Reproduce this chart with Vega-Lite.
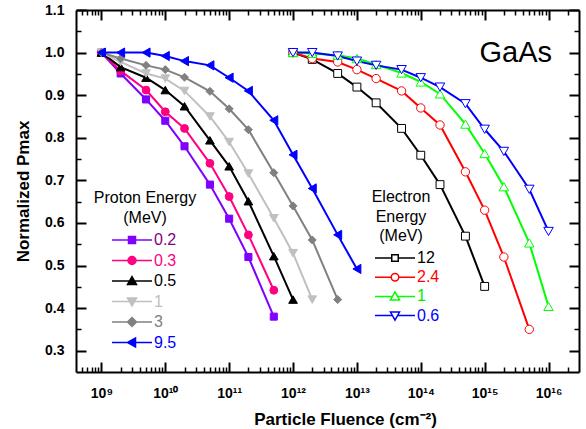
{
  "$schema": "https://vega.github.io/schema/vega-lite/v6.json",
  "width": 503,
  "height": 362,
  "autosize": {"type": "none"},
  "padding": {"left": 76, "top": 10, "right": 7, "bottom": 57},
  "background": "white",
  "config": {"view": {"stroke": null}, "font": "Liberation Sans"},
  "title": {"text": "GaAs", "anchor": "end", "orient": "top", "frame": "group", "offset": 0, "baseline": "alphabetic", "dy": 88, "dx": -27, "fontSize": 29, "fontWeight": "normal", "font": "Liberation Sans", "color": "black"},
  "datasets": {
    "proton": [
      {"energy": "0.2", "fluence": 1e9, "pmax": 1.0}, {"energy": "0.2", "fluence": 2e9, "pmax": 0.951}, {"energy": "0.2", "fluence": 5e9, "pmax": 0.89}, {"energy": "0.2", "fluence": 1e10, "pmax": 0.84}, {"energy": "0.2", "fluence": 2e10, "pmax": 0.78}, {"energy": "0.2", "fluence": 5e10, "pmax": 0.69}, {"energy": "0.2", "fluence": 1e11, "pmax": 0.61}, {"energy": "0.2", "fluence": 2e11, "pmax": 0.52}, {"energy": "0.2", "fluence": 5e11, "pmax": 0.38},
      {"energy": "0.3", "fluence": 1e9, "pmax": 1.0}, {"energy": "0.3", "fluence": 2e9, "pmax": 0.957}, {"energy": "0.3", "fluence": 5e9, "pmax": 0.912}, {"energy": "0.3", "fluence": 1e10, "pmax": 0.861}, {"energy": "0.3", "fluence": 2e10, "pmax": 0.822}, {"energy": "0.3", "fluence": 5e10, "pmax": 0.74}, {"energy": "0.3", "fluence": 1e11, "pmax": 0.662}, {"energy": "0.3", "fluence": 2e11, "pmax": 0.572}, {"energy": "0.3", "fluence": 5e11, "pmax": 0.442},
      {"energy": "0.5", "fluence": 1e9, "pmax": 1.0}, {"energy": "0.5", "fluence": 2e9, "pmax": 0.966}, {"energy": "0.5", "fluence": 5e9, "pmax": 0.941}, {"energy": "0.5", "fluence": 1e10, "pmax": 0.912}, {"energy": "0.5", "fluence": 2e10, "pmax": 0.874}, {"energy": "0.5", "fluence": 5e10, "pmax": 0.794}, {"energy": "0.5", "fluence": 1e11, "pmax": 0.733}, {"energy": "0.5", "fluence": 2e11, "pmax": 0.651}, {"energy": "0.5", "fluence": 5e11, "pmax": 0.522}, {"energy": "0.5", "fluence": 1e12, "pmax": 0.42},
      {"energy": "1", "fluence": 1e9, "pmax": 1.0}, {"energy": "1", "fluence": 2e9, "pmax": 0.978}, {"energy": "1", "fluence": 5e9, "pmax": 0.951}, {"energy": "1", "fluence": 1e10, "pmax": 0.939}, {"energy": "1", "fluence": 2e10, "pmax": 0.91}, {"energy": "1", "fluence": 5e10, "pmax": 0.85}, {"energy": "1", "fluence": 1e11, "pmax": 0.79}, {"energy": "1", "fluence": 2e11, "pmax": 0.716}, {"energy": "1", "fluence": 5e11, "pmax": 0.611}, {"energy": "1", "fluence": 1e12, "pmax": 0.529}, {"energy": "1", "fluence": 2e12, "pmax": 0.42},
      {"energy": "3", "fluence": 1e9, "pmax": 1.0}, {"energy": "3", "fluence": 2e9, "pmax": 0.986}, {"energy": "3", "fluence": 5e9, "pmax": 0.97}, {"energy": "3", "fluence": 1e10, "pmax": 0.96}, {"energy": "3", "fluence": 2e10, "pmax": 0.942}, {"energy": "3", "fluence": 5e10, "pmax": 0.909}, {"energy": "3", "fluence": 1e11, "pmax": 0.868}, {"energy": "3", "fluence": 2e11, "pmax": 0.819}, {"energy": "3", "fluence": 5e11, "pmax": 0.718}, {"energy": "3", "fluence": 1e12, "pmax": 0.64}, {"energy": "3", "fluence": 2e12, "pmax": 0.56}, {"energy": "3", "fluence": 5e12, "pmax": 0.42},
      {"energy": "9.5", "fluence": 1e9, "pmax": 1.0}, {"energy": "9.5", "fluence": 2e9, "pmax": 1.0}, {"energy": "9.5", "fluence": 5e9, "pmax": 1.0}, {"energy": "9.5", "fluence": 1e10, "pmax": 0.992}, {"energy": "9.5", "fluence": 2e10, "pmax": 0.98}, {"energy": "9.5", "fluence": 5e10, "pmax": 0.97}, {"energy": "9.5", "fluence": 1e11, "pmax": 0.941}, {"energy": "9.5", "fluence": 2e11, "pmax": 0.91}, {"energy": "9.5", "fluence": 5e11, "pmax": 0.841}, {"energy": "9.5", "fluence": 1e12, "pmax": 0.76}, {"energy": "9.5", "fluence": 2e12, "pmax": 0.681}, {"energy": "9.5", "fluence": 5e12, "pmax": 0.572}, {"energy": "9.5", "fluence": 1e13, "pmax": 0.492}
    ],
    "electron": [
      {"energy": "12", "fluence": 1e12, "pmax": 1.0}, {"energy": "12", "fluence": 2e12, "pmax": 0.984}, {"energy": "12", "fluence": 5e12, "pmax": 0.951}, {"energy": "12", "fluence": 1e13, "pmax": 0.919}, {"energy": "12", "fluence": 2e13, "pmax": 0.882}, {"energy": "12", "fluence": 5e13, "pmax": 0.822}, {"energy": "12", "fluence": 1e14, "pmax": 0.759}, {"energy": "12", "fluence": 2e14, "pmax": 0.69}, {"energy": "12", "fluence": 5e14, "pmax": 0.569}, {"energy": "12", "fluence": 1e15, "pmax": 0.451},
      {"energy": "2.4", "fluence": 1e12, "pmax": 1.0}, {"energy": "2.4", "fluence": 2e12, "pmax": 0.986}, {"energy": "2.4", "fluence": 5e12, "pmax": 0.978}, {"energy": "2.4", "fluence": 1e13, "pmax": 0.96}, {"energy": "2.4", "fluence": 2e13, "pmax": 0.939}, {"energy": "2.4", "fluence": 5e13, "pmax": 0.91}, {"energy": "2.4", "fluence": 1e14, "pmax": 0.87}, {"energy": "2.4", "fluence": 2e14, "pmax": 0.83}, {"energy": "2.4", "fluence": 5e14, "pmax": 0.72}, {"energy": "2.4", "fluence": 1e15, "pmax": 0.63}, {"energy": "2.4", "fluence": 2e15, "pmax": 0.52}, {"energy": "2.4", "fluence": 5e15, "pmax": 0.35},
      {"energy": "1", "fluence": 1e12, "pmax": 1.0}, {"energy": "1", "fluence": 2e12, "pmax": 0.998}, {"energy": "1", "fluence": 5e12, "pmax": 0.994}, {"energy": "1", "fluence": 1e13, "pmax": 0.986}, {"energy": "1", "fluence": 2e13, "pmax": 0.972}, {"energy": "1", "fluence": 5e13, "pmax": 0.952}, {"energy": "1", "fluence": 1e14, "pmax": 0.931}, {"energy": "1", "fluence": 2e14, "pmax": 0.903}, {"energy": "1", "fluence": 5e14, "pmax": 0.832}, {"energy": "1", "fluence": 1e15, "pmax": 0.763}, {"energy": "1", "fluence": 2e15, "pmax": 0.685}, {"energy": "1", "fluence": 5e15, "pmax": 0.553}, {"energy": "1", "fluence": 1e16, "pmax": 0.404},
      {"energy": "0.6", "fluence": 1e12, "pmax": 1.0}, {"energy": "0.6", "fluence": 2e12, "pmax": 1.0}, {"energy": "0.6", "fluence": 5e12, "pmax": 0.992}, {"energy": "0.6", "fluence": 1e13, "pmax": 0.98}, {"energy": "0.6", "fluence": 2e13, "pmax": 0.97}, {"energy": "0.6", "fluence": 5e13, "pmax": 0.96}, {"energy": "0.6", "fluence": 1e14, "pmax": 0.941}, {"energy": "0.6", "fluence": 2e14, "pmax": 0.919}, {"energy": "0.6", "fluence": 5e14, "pmax": 0.88}, {"energy": "0.6", "fluence": 1e15, "pmax": 0.82}, {"energy": "0.6", "fluence": 2e15, "pmax": 0.768}, {"energy": "0.6", "fluence": 5e15, "pmax": 0.679}, {"energy": "0.6", "fluence": 1e16, "pmax": 0.58}
    ]
  },
  "layer": [
    {
      "data": {"name": "proton"},
      "resolve": {"axis": {"x": "independent", "y": "independent"}},
      "layer": [
        {
          "mark": {"type": "line", "strokeWidth": 2},
          "encoding": {
            "x": {"field": "fluence", "type": "quantitative", "scale": {"type": "log", "domain": [4e8, 3e16], "nice": false},
              "axis": {"orient": "bottom", "values": [1e9, 1e10, 1e11, 1e12, 1e13, 1e14, 1e15, 1e16], "tickSize": -10, "tickWidth": 2, "tickColor": "black", "domain": true, "domainWidth": 2, "domainColor": "black", "grid": false,
                "labelFont": "Liberation Sans", "labelFontSize": 14, "labelFontWeight": "bold", "labelColor": "black", "labelPadding": 24, "labelOverlap": false, "labelFlush": false,
                "labelExpr": "'10' + (datum.value < 5e9 ? '⁹' : datum.value < 5e10 ? '¹⁰' : datum.value < 5e11 ? '¹¹' : datum.value < 5e12 ? '¹²' : datum.value < 5e13 ? '¹³' : datum.value < 5e14 ? '¹⁴' : datum.value < 5e15 ? '¹⁵' : '¹⁶')",
                "title": "Particle Fluence (cm⁻²)", "titleFont": "Liberation Sans", "titleFontSize": 17, "titleFontWeight": "bold", "titleColor": "black", "titlePadding": 11, "titleX": 269, "titleAlign": "center"}},
            "y": {"field": "pmax", "type": "quantitative", "scale": {"domain": [0.25, 1.1], "nice": false, "zero": false},
              "axis": {"orient": "left", "values": [0.3, 0.4, 0.5, 0.6, 0.7, 0.8, 0.9, 1.0, 1.1], "format": ".1f", "tickSize": -10, "tickWidth": 2, "tickColor": "black", "domain": true, "domainWidth": 2, "domainColor": "black", "grid": false,
                "labelFont": "Liberation Sans", "labelFontSize": 14, "labelFontWeight": "bold", "labelColor": "black", "labelPadding": 22, "labelOverlap": false, "labelFlush": false,
                "title": "Normalized Pmax", "titleFont": "Liberation Sans", "titleFontSize": 17, "titleFontWeight": "bold", "titleColor": "black", "titlePadding": 12}},
            "color": {"field": "energy", "type": "nominal", "scale": {"range": ["#8000ff", "#ff0080", "#000000", "#c0c0c0", "#808080", "#0000ff"]}, "legend": null}
          }
        },
        {
          "mark": {"type": "point", "filled": true, "opacity": 1, "strokeWidth": 1},
          "encoding": {
            "x": {"field": "fluence", "type": "quantitative", "scale": {"type": "log", "domain": [4e8, 3e16], "nice": false},
              "axis": {"orient": "bottom", "values": [5e8, 6e8, 7e8, 8e8, 9e8, 2e9, 3e9, 4e9, 5e9, 6e9, 7e9, 8e9, 9e9, 2e10, 3e10, 4e10, 5e10, 6e10, 7e10, 8e10, 9e10, 2e11, 3e11, 4e11, 5e11, 6e11, 7e11, 8e11, 9e11, 2e12, 3e12, 4e12, 5e12, 6e12, 7e12, 8e12, 9e12, 2e13, 3e13, 4e13, 5e13, 6e13, 7e13, 8e13, 9e13, 2e14, 3e14, 4e14, 5e14, 6e14, 7e14, 8e14, 9e14, 2e15, 3e15, 4e15, 5e15, 6e15, 7e15, 8e15, 9e15, 2e16], "tickSize": -5, "tickWidth": 1.5, "tickColor": "black", "domain": false, "labels": false, "grid": false, "title": null}},
            "y": {"field": "pmax", "type": "quantitative", "scale": {"domain": [0.25, 1.1], "nice": false, "zero": false},
              "axis": {"orient": "left", "values": [0.35, 0.45, 0.55, 0.65, 0.75, 0.85, 0.95, 1.05], "tickSize": -5, "tickWidth": 1.5, "tickColor": "black", "domain": false, "labels": false, "grid": false, "title": null}},
            "stroke": {"field": "energy", "type": "nominal", "scale": {"domain": ["0.2", "0.3", "0.5", "1", "3", "9.5"], "range": ["#8000ff", "#ff0080", "#000000", "#c0c0c0", "#808080", "#0000ff"]},
              "legend": {"title": ["Proton Energy", "(MeV)"], "orient": "none", "legendX": 18, "legendY": 180, "padding": 0,
                "titleFont": "Liberation Sans", "titleFontSize": 16, "titleFontWeight": "normal", "titleColor": "black", "titleAlign": "center", "titleAnchor": "middle", "titleLineHeight": 20, "titlePadding": 6,
                "labelFont": "Liberation Sans", "labelFontSize": 16, "labelOffset": 14, "rowPadding": 4.5, "symbolOffset": 10,
                "symbolSize": 100, "symbolStrokeWidth": 1.5,
                "labelColor": {"expr": "datum.value == '0.2' ? '#800080' : datum.value == '0.3' ? '#ff0080' : datum.value == '0.5' ? '#000000' : datum.value == '1' ? '#c0c0c0' : datum.value == '3' ? '#808080' : '#0000ff'"},
                "symbolFillColor": {"expr": "datum.value == '0.2' ? '#8000ff' : datum.value == '0.3' ? '#ff0080' : datum.value == '0.5' ? '#000000' : datum.value == '1' ? '#c0c0c0' : datum.value == '3' ? '#808080' : '#0000ff'"},
                "symbolType": {"expr": "datum.value == '0.2' ? 'M-4,0H-0.7M0.7,0H4M-0.7,-0.7H0.7V0.7H-0.7Z' : datum.value == '0.3' ? 'M-4,0H-0.8M0.8,0H4M-0.8,0A0.8,0.8,0,1,0,0.8,0A0.8,0.8,0,1,0,-0.8,0Z' : datum.value == '0.5' ? 'M-4,0H-0.5M0.5,0H4M0,-0.9L0.9,0.7H-0.9Z' : datum.value == '1' ? 'M-4,0H-0.5M0.5,0H4M0,0.9L0.9,-0.7H-0.9Z' : datum.value == '3' ? 'M-4,0H-0.9M0.9,0H4M0,-0.9L0.9,0L0,0.9L-0.9,0Z' : 'M-4,0H-0.9M0.7,0H4M-0.9,0L0.7,-0.9V0.9Z'"}}},
            "fill": {"field": "energy", "type": "nominal", "scale": {"range": ["#8000ff", "#ff0080", "#000000", "#c0c0c0", "#808080", "#0000ff"]}, "legend": null},
            "shape": {"field": "energy", "type": "nominal", "scale": {"range": ["square", "circle", "triangle-up", "triangle-down", "diamond", "triangle-left"]}, "legend": null},
            "size": {"field": "energy", "type": "nominal", "scale": {"type": "ordinal", "range": [50, 62, 75, 75, 64, 85]}, "legend": null}
          }
        }
      ]
    },
    {
      "data": {"name": "electron"},
      "resolve": {"axis": {"x": "independent", "y": "independent"}},
      "layer": [
        {
          "mark": {"type": "line", "strokeWidth": 2},
          "encoding": {
            "x": {"field": "fluence", "type": "quantitative", "scale": {"type": "log", "domain": [4e8, 3e16], "nice": false},
              "axis": {"orient": "top", "values": [1e9, 1e10, 1e11, 1e12, 1e13, 1e14, 1e15, 1e16], "tickSize": -10, "tickWidth": 2, "tickColor": "black", "domain": true, "domainWidth": 2, "domainColor": "black", "grid": false, "labels": false, "title": null}},
            "y": {"field": "pmax", "type": "quantitative", "scale": {"domain": [0.25, 1.1], "nice": false, "zero": false},
              "axis": {"orient": "right", "values": [0.3, 0.4, 0.5, 0.6, 0.7, 0.8, 0.9, 1.0, 1.1], "tickSize": -10, "tickWidth": 2, "tickColor": "black", "domain": true, "domainWidth": 2, "domainColor": "black", "grid": false, "labels": false, "title": null}},
            "color": {"field": "energy", "type": "nominal", "scale": {"range": ["#0000ff", "#00ff00", "#000000", "#ff0000"]}, "legend": null}
          }
        },
        {
          "mark": {"type": "point", "filled": false, "fill": "white", "opacity": 1, "strokeWidth": 1},
          "encoding": {
            "x": {"field": "fluence", "type": "quantitative", "scale": {"type": "log", "domain": [4e8, 3e16], "nice": false},
              "axis": {"orient": "top", "values": [5e8, 6e8, 7e8, 8e8, 9e8, 2e9, 3e9, 4e9, 5e9, 6e9, 7e9, 8e9, 9e9, 2e10, 3e10, 4e10, 5e10, 6e10, 7e10, 8e10, 9e10, 2e11, 3e11, 4e11, 5e11, 6e11, 7e11, 8e11, 9e11, 2e12, 3e12, 4e12, 5e12, 6e12, 7e12, 8e12, 9e12, 2e13, 3e13, 4e13, 5e13, 6e13, 7e13, 8e13, 9e13, 2e14, 3e14, 4e14, 5e14, 6e14, 7e14, 8e14, 9e14, 2e15, 3e15, 4e15, 5e15, 6e15, 7e15, 8e15, 9e15, 2e16], "tickSize": -5, "tickWidth": 1.5, "tickColor": "black", "domain": false, "labels": false, "grid": false, "title": null}},
            "y": {"field": "pmax", "type": "quantitative", "scale": {"domain": [0.25, 1.1], "nice": false, "zero": false},
              "axis": {"orient": "right", "values": [0.35, 0.45, 0.55, 0.65, 0.75, 0.85, 0.95, 1.05], "tickSize": -5, "tickWidth": 1.5, "tickColor": "black", "domain": false, "labels": false, "grid": false, "title": null}},
            "stroke": {"field": "energy", "type": "nominal", "scale": {"domain": ["12", "2.4", "1", "0.6"], "range": ["#000000", "#ff0000", "#00ff00", "#0000ff"]},
              "legend": {"title": ["Electron", "Energy", "(MeV)"], "orient": "none", "legendX": 287, "legendY": 179, "padding": 0,
                "titleFont": "Liberation Sans", "titleFontSize": 16, "titleFontWeight": "normal", "titleColor": "black", "titleAlign": "center", "titleAnchor": "middle", "titleLineHeight": 19.5, "titlePadding": 6,
                "labelFont": "Liberation Sans", "labelFontSize": 16, "labelOffset": 14, "rowPadding": 3.2, "symbolOffset": 24,
                "symbolSize": 100, "symbolStrokeWidth": 1.5, "symbolFillColor": "white",
                "labelColor": {"expr": "datum.value == '12' ? '#000000' : datum.value == '2.4' ? '#ff0000' : datum.value == '1' ? '#00ee00' : '#0000ff'"},
                "symbolType": {"expr": "datum.value == '12' ? 'M-4,0H-0.65M0.65,0H4M-0.65,-0.65H0.65V0.65H-0.65Z' : datum.value == '2.4' ? 'M-4,0H-0.75M0.75,0H4M-0.75,0A0.75,0.75,0,1,0,0.75,0A0.75,0.75,0,1,0,-0.75,0Z' : datum.value == '1' ? 'M-4,0H-0.5M0.5,0H4M0,-0.9L0.9,0.7H-0.9Z' : 'M-4,0H-0.5M0.5,0H4M0,0.9L0.9,-0.7H-0.9Z'"}}},
            "shape": {"field": "energy", "type": "nominal", "scale": {"range": ["triangle-down", "triangle-up", "square", "circle"]}, "legend": null},
            "size": {"field": "energy", "type": "nominal", "scale": {"type": "ordinal", "range": [90, 90, 62, 70]}, "legend": null}
          }
        }
      ]
    }
  ],
  "resolve": {"scale": {"color": "independent", "stroke": "independent", "fill": "independent", "shape": "independent", "size": "independent"}, "axis": {"x": "independent", "y": "independent"}}
}
